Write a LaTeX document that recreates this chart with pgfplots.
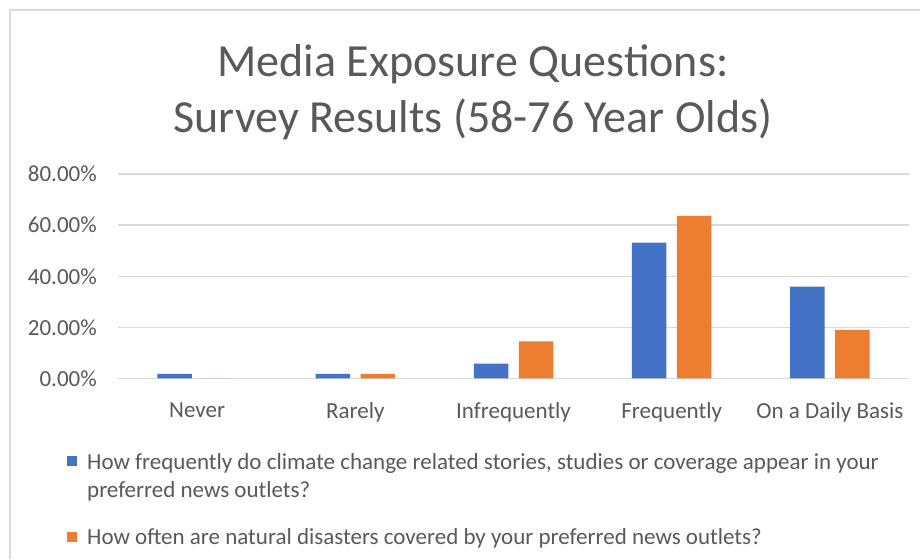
\documentclass[border=0pt]{standalone}
\usepackage{fontspec}
\setmainfont{Carlito}
\usepackage{pgfplots}
\pgfplotsset{compat=1.18}
\definecolor{cblue}{HTML}{4472C4}
\definecolor{corange}{HTML}{ED7D31}
\definecolor{txt}{HTML}{595959}
\definecolor{grid}{HTML}{D9D9D9}
\begin{document}
\begin{tikzpicture}[x=1pt,y=1pt]
\path[use as bounding box] (0,0) rectangle (920,559);
\fill[white] (0,0) rectangle (920,559);
\draw[grid, line width=1.5pt] (10,0) -- (10,549) -- (920,549);
\node[txt, align=center, font=\fontsize{46}{56}\selectfont] at (473,467) {Media Exposure Questions:\\Survey Results (58-76 Year Olds)};
\begin{axis}[
  at={(118pt,180.5pt)}, anchor=south west,
  scale only axis, width=791pt, height=204.5pt,
  ybar=10.5pt, bar width=34.5pt,
  xmin=-0.5, xmax=4.5, ymin=0, ymax=80,
  xtick=data,
  xticklabels={Never,Rarely,Infrequently,Frequently,On a Daily Basis},
  ytick={0,20,40,60,80},
  yticklabel={\pgfmathprintnumber[fixed,fixed zerofill,precision=2]{\tick}\%},
  /pgf/number format/assume math mode=true,
  axis line style={draw=none},
  tick style={draw=none},
  xmajorgrids=false,
  ymajorgrids=true,
  major x grid style={draw=none},
  major y grid style={grid, line width=1.5pt},
  ticklabel style={font=\fontsize{23}{28}\selectfont, text=txt, inner sep=0pt},
  yticklabel shift=21pt,
  xticklabel shift=20pt,
  xticklabel style={anchor=north},
  legend cell align=left,
  legend image code/.code={\fill[#1] (0pt,-5pt) rectangle (10pt,5pt);},
  legend style={draw=none, fill=none, at={(axis description cs:-0.0683,-0.33)}, anchor=north west,
    font=\fontsize{23}{28}\selectfont, text=txt, row sep=53pt},
  /tikz/every odd column/.style={column sep=8pt},
]
\addplot[fill=cblue, draw=none] coordinates {(0,1.8) (1,1.8) (2,5.8) (3,53.2) (4,35.9)};
\addplot[fill=corange, draw=none] coordinates {(0,0) (1,1.8) (2,14.5) (3,63.6) (4,19.0)};
\legend{{\begin{tabular}[t]{@{}l@{}}How frequently do climate change related stories, studies or coverage appear in your\\preferred news outlets?\end{tabular}},{How often are natural disasters covered by your preferred news outlets?}}
\end{axis}
\end{tikzpicture}
\end{document}
